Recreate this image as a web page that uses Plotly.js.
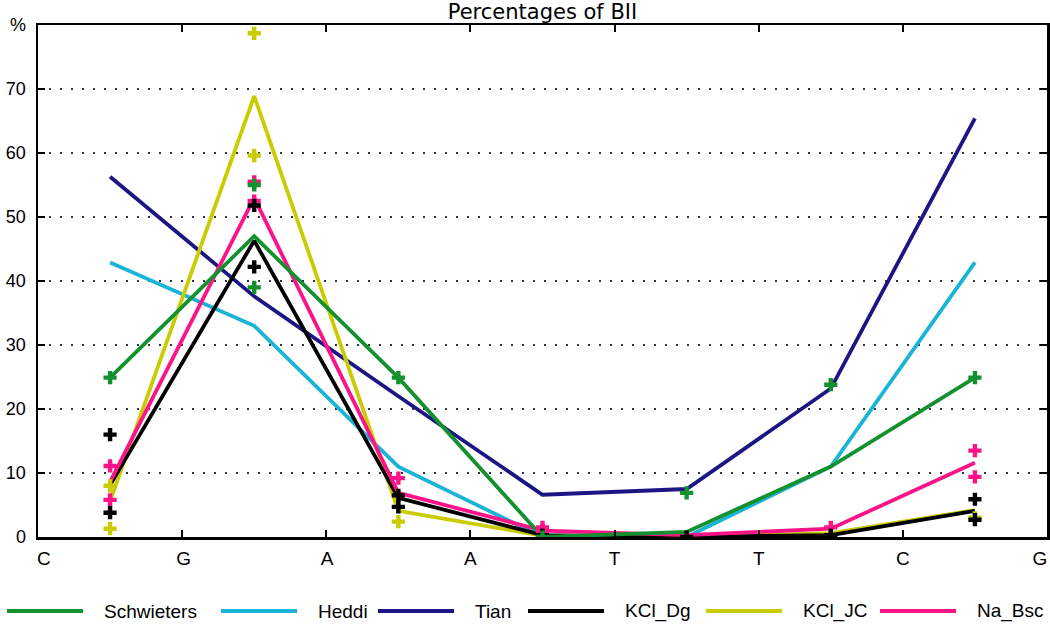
<!DOCTYPE html>
<html>
<head>
<meta charset="utf-8">
<script src="https://cdn.plot.ly/plotly-3.0.1.min.js"></script>
<style>html,body{margin:0;padding:0;background:#fff;}#chart{width:1050px;height:624px;}</style>
</head>
<body>
<div id="chart"></div>
<script>
// Step positions between bases (midpoints between tick letters)
const steps = [0.5, 1.5, 2.5, 3.5, 4.5, 5.5, 6.5];
const baseTicks = [0, 1, 2, 3, 4, 5, 6, 7];
const baseLabels = ["C", "G", "A", "A", "T", "T", "C", "G"];
const yTickVals = [0, 10, 20, 30, 40, 50, 60, 70, 80];
const yTickText = ["0", "10", "20", "30", "40", "50", "60", "70", "%"];

// Line series (% BII)
const seriesNames = ["Schwieters", "Heddi", "Tian", "KCl_Dg", "KCl_JC", "Na_Bsc"];
const schwieters = [24.9, 47.0, 24.9, 0.0, 0.8, 11.0, 24.9];
const heddi      = [42.9, 33.0, 11.0, 0.0, 0.0, 11.0, 42.9];
const tian       = [56.3, 37.6, 22.0, 6.6, 7.5, 23.2, 65.4];
const kclDg      = [8.1, 46.3, 6.1, 0.3, 0.0, 0.3, 4.1];
const kclJc      = [5.6, 68.9, 4.1, 0.2, 0.0, 0.6, 4.2];
const naBsc      = [8.6, 53.0, 6.9, 1.0, 0.3, 1.3, 11.6];

// Cross markers (individual values)
const greenX = [0.5, 1.5, 1.5, 2.5, 3.5, 4.5, 5.5, 6.5];
const greenY = [24.9, 55.0, 39.0, 24.9, 0.0, 6.9, 23.8, 24.9];
const blackX = [0.5, 0.5, 1.5, 1.5, 2.5, 2.5, 3.5, 4.5, 5.5, 6.5, 6.5];
const blackY = [16.0, 3.8, 51.8, 42.2, 6.5, 4.7, 0.3, 0.0, 0.3, 5.9, 2.7];
const pinkX  = [0.5, 0.5, 1.5, 1.5, 2.5, 3.5, 3.5, 5.5, 6.5, 6.5];
const pinkY  = [11.1, 5.8, 55.5, 52.5, 9.2, 1.5, 1.0, 1.5, 13.5, 9.4];
const yellowX = [0.5, 0.5, 1.5, 1.5, 2.5, 6.5];
const yellowY = [8.0, 1.3, 78.7, 59.6, 2.4, 3.0];

const colors = ["#14912f", "#1cb4d6", "#1d1584", "#000000", "#c9cc00", "#fb1488"];
const seriesValues = [schwieters, heddi, tian, kclDg, kclJc, naBsc];

// plot area geometry (px)
const W = 1050, H = 624, ML = 38, MR = 3, MT = 25, MB = 87;
const PW = W - ML - MR, PH = H - MT - MB;
// custom legend layout (px)
const legendLineStart = [7, 221, 378, 528, 706, 880];
const legendLineLen = 76, legendTextGap = 19, legendY = 611;
const px2x = p => (p - ML) / PW;
const px2y = p => (H - MB - p) / PH;

function line(i) {
  return {x: steps, y: seriesValues[i], name: seriesNames[i], type: "scatter", mode: "lines",
    line: {color: colors[i], width: 3.8}, showlegend: false, hoverinfo: "skip"};
}
function marks(xs, ys, color, xaxis) {
  return {x: xs, y: ys, type: "scatter", mode: "markers", showlegend: false, xaxis: xaxis || "x",
    marker: {symbol: "cross", size: 11, color: color, line: {width: 0}}, hoverinfo: "skip"};
}

// draw order
const data = [1, 2, 4, 3, 5, 0].map(line).concat([
  marks(yellowX, yellowY, colors[4], "x2"),
  marks(pinkX, pinkY, colors[5], "x2"),
  marks(blackX, blackY, colors[3], "x2"),
  marks(greenX, greenY, colors[0], "x2")
]);

const shapes = [], annotations = [];
seriesNames.forEach((n, i) => {
  const yl = px2y(legendY);
  shapes.push({type: "line", xref: "paper", yref: "paper",
    x0: px2x(legendLineStart[i]), x1: px2x(legendLineStart[i] + legendLineLen), y0: yl, y1: yl,
    line: {color: colors[i], width: 4}});
  annotations.push({text: n, xref: "paper", yref: "paper", showarrow: false,
    x: px2x(legendLineStart[i] + legendLineLen + legendTextGap), xanchor: "left",
    y: yl, yanchor: "middle", font: {size: 19, color: "#000"}});
});

const layout = {
  width: W, height: H,
  margin: {l: ML, r: MR, t: MT, b: MB},
  paper_bgcolor: "#fff", plot_bgcolor: "#fff",
  font: {family: "Liberation Sans, Arial, sans-serif", size: 18, color: "#000"},
  title: {text: "Percentages of BII", x: 0.5, xref: "paper", xanchor: "center",
    y: 0.982, yref: "container", yanchor: "middle",
    font: {family: "DejaVu Sans, sans-serif", size: 21, color: "#000"}},
  xaxis: {range: [0, 7], tickmode: "array", tickvals: baseTicks, showticklabels: false,
    showgrid: false, zeroline: false, showline: true, linecolor: "#000", linewidth: 2.5,
    mirror: "ticks", ticks: "inside", ticklen: 7, tickwidth: 2, tickcolor: "#000", fixedrange: true},
  xaxis2: {range: [0, 7], overlaying: "x", anchor: "y", side: "bottom", tickmode: "array",
    tickvals: [0.04, 1.01, 2.005, 3.0, 4.0, 5.0, 6.0, 6.95], ticktext: baseLabels,
    ticks: "", showline: false, showgrid: false, zeroline: false, ticklabelstandoff: 8,
    tickfont: {size: 19}, fixedrange: true},
  yaxis: {range: [0, 80], tickmode: "array", tickvals: yTickVals, ticktext: yTickText,
    showgrid: true, gridcolor: "#333", gridwidth: 1.6, griddash: "2px,9px",
    zeroline: false, showline: true, linecolor: "#000", linewidth: 2.5,
    mirror: "ticks", ticks: "inside", ticklen: 7, tickwidth: 2, tickcolor: "#000",
    ticklabelstandoff: 6, tickfont: {size: 18}, fixedrange: true},
  showlegend: false,
  shapes: shapes,
  annotations: annotations
};

Plotly.newPlot("chart", data, layout, {staticPlot: true, displayModeBar: false});
</script>
</body>
</html>
